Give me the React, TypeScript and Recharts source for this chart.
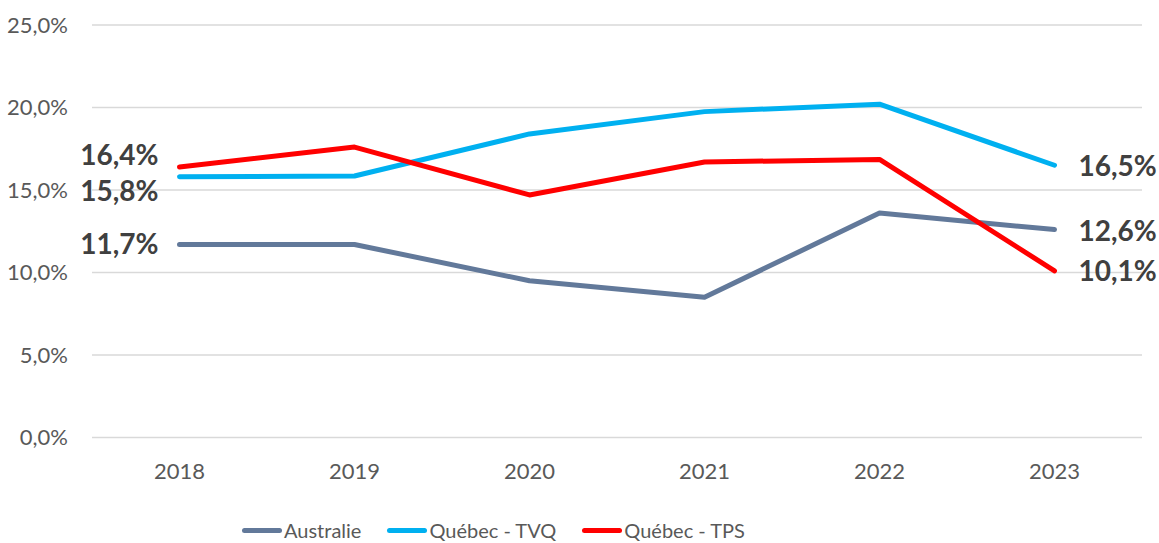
import { CartesianGrid, Line, LineChart, XAxis, YAxis } from "recharts";

const years = ["2018", "2019", "2020", "2021", "2022", "2023"];
const australie = [11.7, 11.7, 9.5, 8.5, 13.6, 12.6];
const quebecTvq = [15.8, 15.85, 18.4, 19.75, 20.2, 16.5];
const quebecTps = [16.4, 17.6, 14.7, 16.7, 16.85, 10.1];
const yTicks = [0, 5, 10, 15, 20, 25];

const series = [
  { key: "aus", name: "Australie", color: "#62799a", firstDy: 0, lastDy: 2 },
  { key: "tvq", name: "Québec - TVQ", color: "#00b0f0", firstDy: 14, lastDy: 1 },
  { key: "tps", name: "Québec - TPS", color: "#ff0000", firstDy: -12, lastDy: 0 },
];

const data = years.map((year, i) => ({
  year,
  aus: australie[i],
  tvq: quebecTvq[i],
  tps: quebecTps[i],
}));

const FONT = "Lato, 'Open Sans', sans-serif";
const pct = (v: number) => v.toFixed(1).replace(".", ",") + "%";

function endLabel(firstDy: number, lastDy: number) {
  return (props: any) => {
    const { x, y, value, index } = props;
    if (index !== 0 && index !== years.length - 1) return null;
    const first = index === 0;
    return (
      <text
        x={first ? x - 21 : x + 24}
        y={y + (first ? firstDy : lastDy)}
        dy="0.35em"
        textAnchor={first ? "end" : "start"}
        fontFamily={FONT}
        fontWeight={700}
        fontSize={28}
        fill="#404040"
      >
        {pct(value)}
      </text>
    );
  };
}

export default function App() {
  return (
    <div style={{ position: "relative", width: 1159, height: 543, background: "#fff" }}>
      <style>{"body{margin:0}"}</style>
      <LineChart
        width={1159}
        height={543}
        data={data}
        margin={{ top: 25, right: 17, left: 0, bottom: 55.5 }}
      >
        <CartesianGrid vertical={false} stroke="#d9d9d9" strokeWidth={1.5} />
        <XAxis
          dataKey="year"
          height={50}
          padding={{ left: 87.5, right: 87.5 }}
          axisLine={false}
          tickLine={false}
          tickMargin={20}
          tick={{ fontFamily: FONT, fontSize: 22, fill: "#595959" }}
        />
        <YAxis
          width={92}
          domain={[0, 25]}
          ticks={yTicks}
          interval={0}
          axisLine={false}
          tickLine={false}
          tickMargin={18}
          tickFormatter={pct}
          tick={{ fontFamily: FONT, fontSize: 22, fill: "#595959" }}
        />
        {series.map((s) => (
          <Line
            key={s.key}
            dataKey={s.key}
            name={s.name}
            type="linear"
            stroke={s.color}
            strokeWidth={5}
            strokeLinecap="round"
            strokeLinejoin="round"
            dot={false}
            activeDot={false}
            label={endLabel(s.firstDy, s.lastDy)}
            isAnimationActive={false}
          />
        ))}
      </LineChart>
      <div
        style={{
          position: "absolute",
          top: 516,
          left: 242,
          display: "flex",
          gap: 26,
          fontFamily: FONT,
          fontSize: 20,
          color: "#595959",
          lineHeight: "28px",
        }}
      >
        {series.map((s) => (
          <div key={s.key} style={{ display: "flex", alignItems: "center" }}>
            <span
              style={{
                display: "inline-block",
                width: 40,
                height: 5,
                borderRadius: 3,
                background: s.color,
                marginRight: 2,
              }}
            />
            <span>{s.name}</span>
          </div>
        ))}
      </div>
    </div>
  );
}
